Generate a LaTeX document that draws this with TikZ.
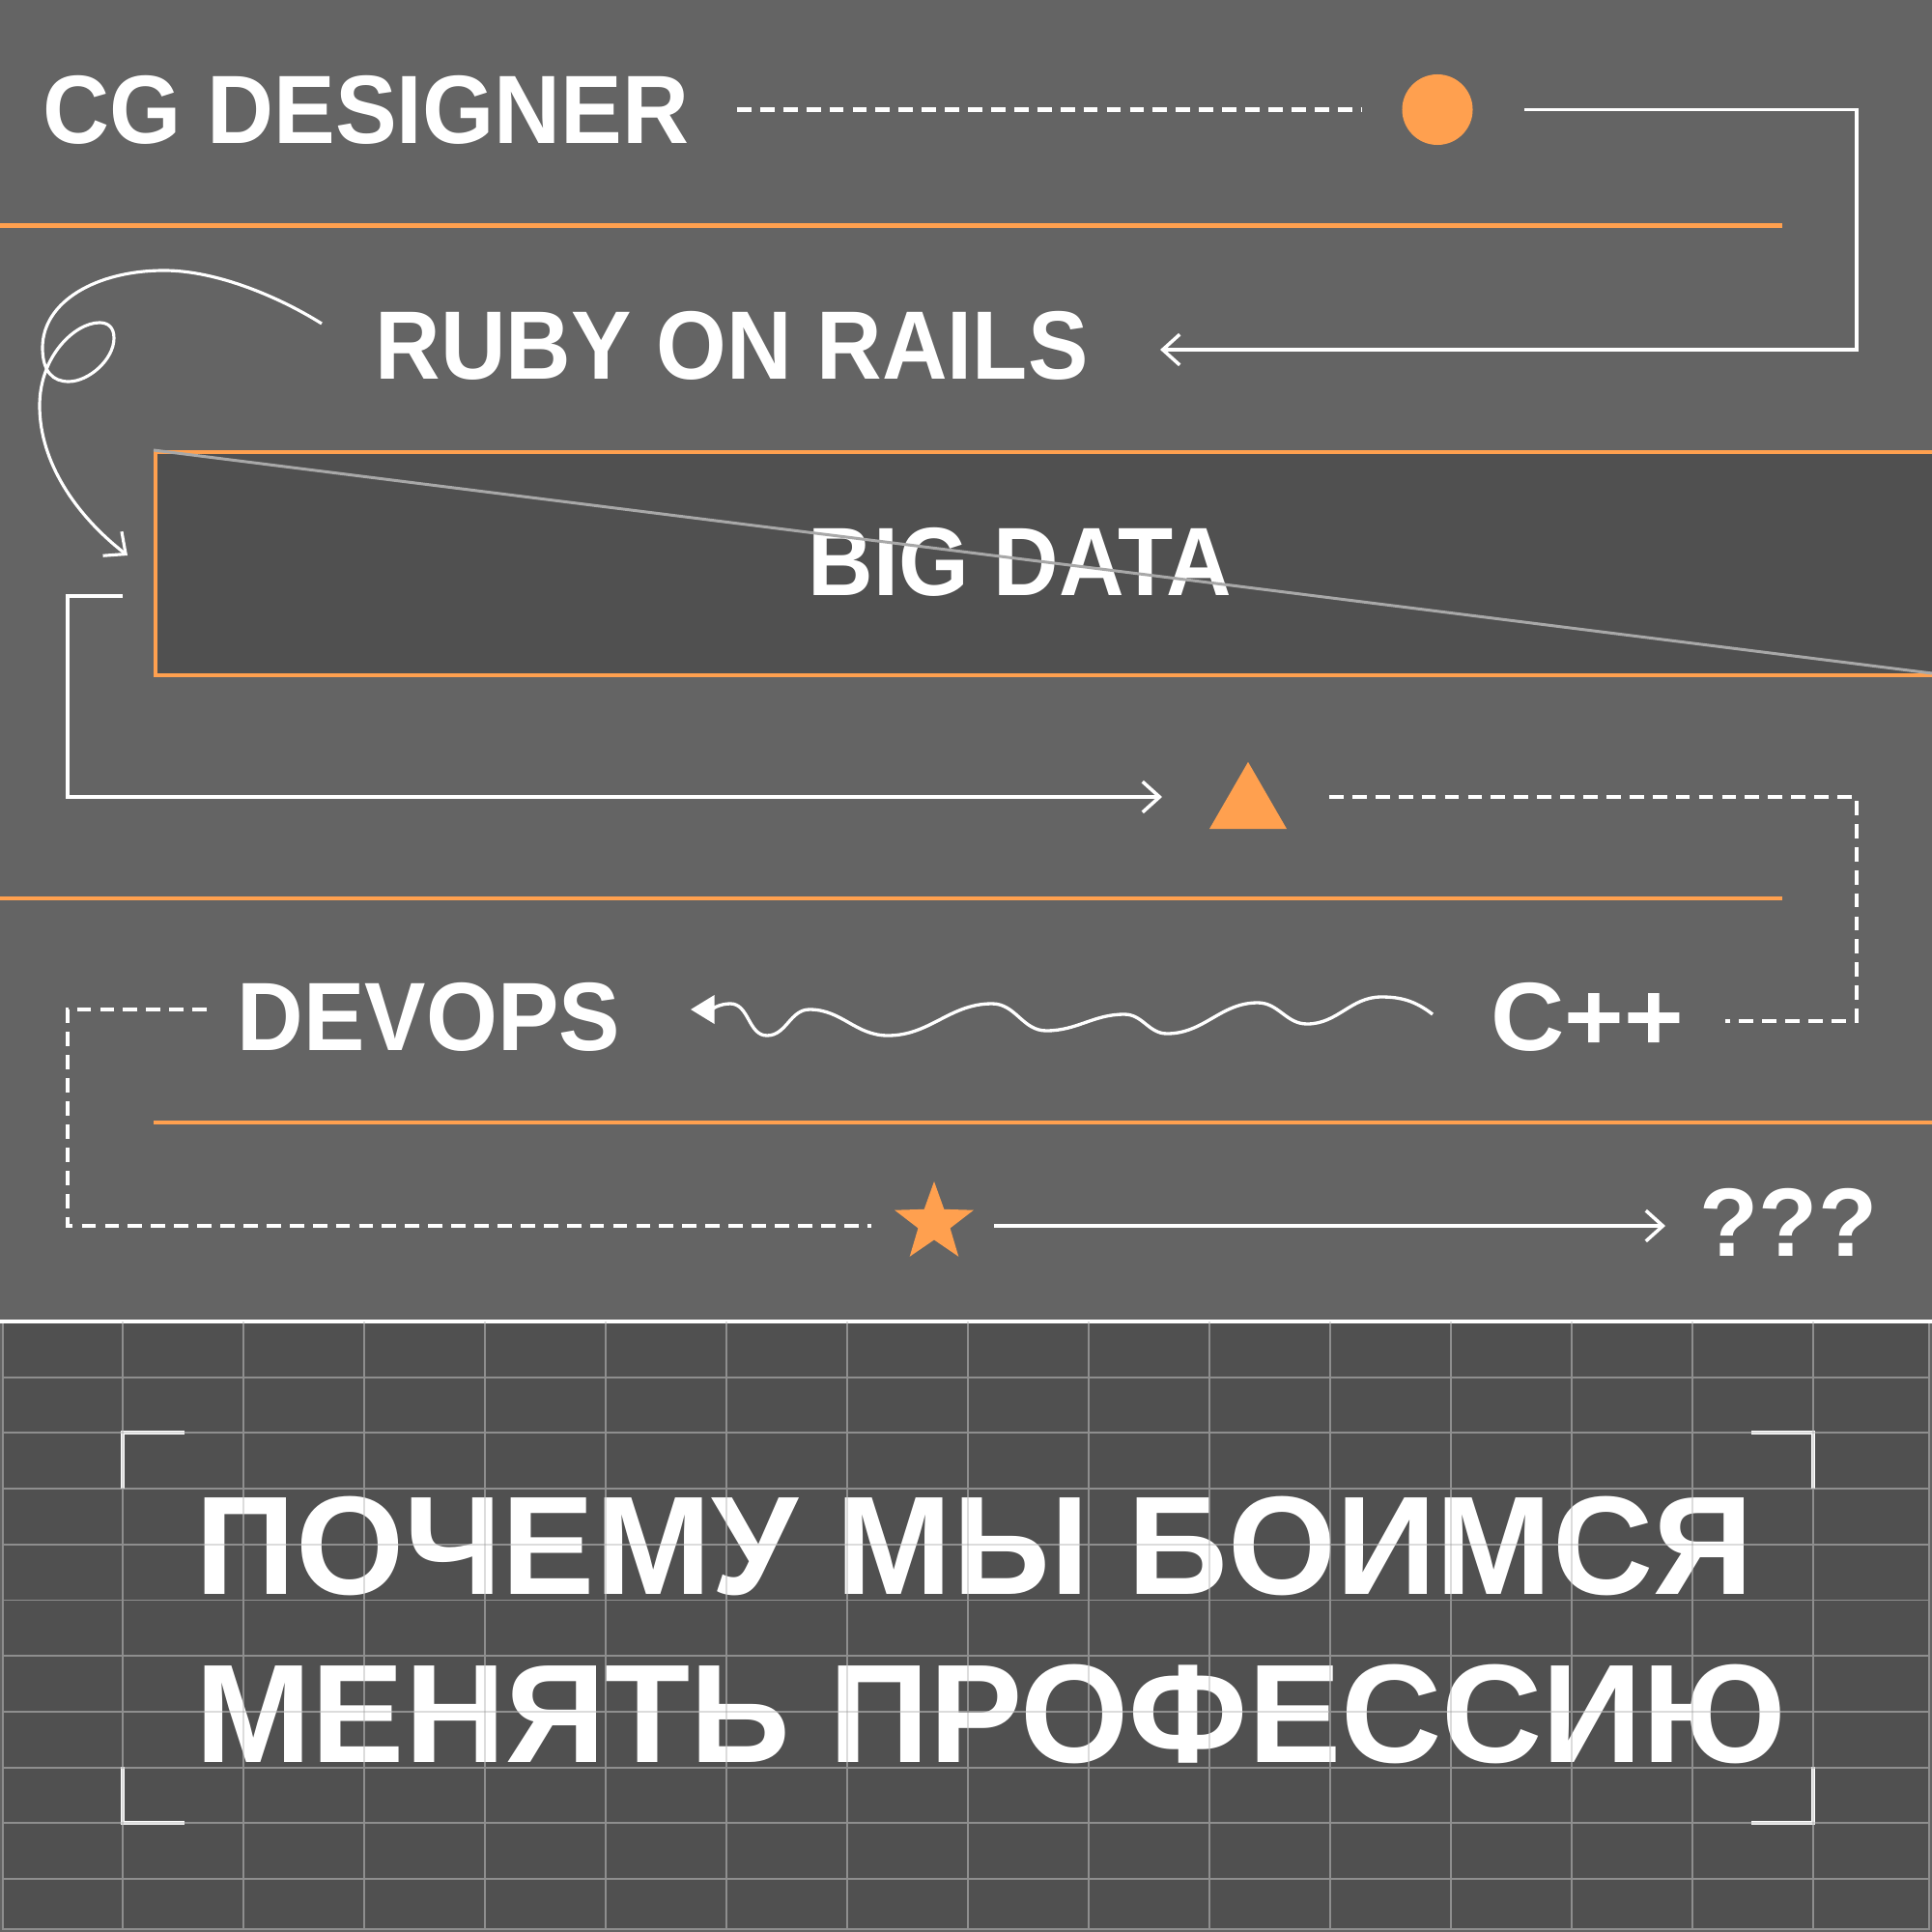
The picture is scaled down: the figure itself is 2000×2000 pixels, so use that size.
\documentclass[tikz,border=0pt]{standalone}
\usepackage{fontspec}
\setmainfont{Liberation Sans}
\usetikzlibrary{arrows.meta,shapes.geometric}
\definecolor{bg}{HTML}{646464}
\definecolor{panel}{HTML}{505050}
\definecolor{org}{HTML}{FFA04F}
\definecolor{gridc}{HTML}{8E8E8E}
\definecolor{diag}{HTML}{A8A8A8}
\newcommand{\lbl}[2]{\scalebox{#1}[1]{#2}}
\begin{document}
\begin{tikzpicture}[x=0.01cm,y=-0.01cm,
  wl/.style={draw=white, line width=1.0pt},
  dl/.style={draw=white, line width=1.25pt, dash pattern=on 4.2pt off 2.6pt},
  ol/.style={draw=org, line width=1.25pt},
  barb/.style={-{Straight Barb[length=5pt,width=9pt]}},
  lab/.style={text=white, inner sep=0pt, anchor=base west, font=\bfseries\fontsize{28.6}{30}\selectfont},
  ttl/.style={text=white, inner sep=0pt, anchor=base west, font=\bfseries\fontsize{41.3}{48}\selectfont},
  gridl/.style={draw=gridc, line width=0.55pt},
  brk/.style={draw=white, line width=1.1pt}
]
\useasboundingbox (0,0) rectangle (2000,2000);
\fill[bg] (0,0) rectangle (2000,2000);

% orange rules
\draw[ol] (0,233.5) -- (1845,233.5);
\draw[ol] (0,930) -- (1845,930);
\draw[ol] (159,1162) -- (2000,1162);

% big data box
\node[draw=org, fill=panel, line width=1.0pt, inner sep=0pt, anchor=north west,
      minimum width=18.6cm, minimum height=2.31cm] (box) at (159,466) {};

% labels
\node[lab] (cg) at (44,149) {\lbl{0.95}{CG DESIGNER}};
\node[lab] (ruby) at (388,392) {\lbl{0.93}{RUBY ON RAILS}};
\node[lab] (big) at (836,616) {\lbl{0.93}{BIG DATA}};
\node[lab] (dev) at (245,1087) {\lbl{0.945}{DEVOPS}};
\node[lab] (cpp) at (1543,1087) {\lbl{1.05}{C++}};
\node[lab] (qqq) at (1759,1300) {\lbl{0.995}{???}};

% diagonal in the box
\draw[draw=diag, line width=0.85pt] (box.north west) -- (2000,697);

% shapes
\node[circle, fill=org, minimum size=0.73cm, inner sep=0pt] (dot) at (1488,113.5) {};
\node[regular polygon, regular polygon sides=3, fill=org, minimum size=0.924cm, inner sep=0pt] (tri) at (1292,835) {};
\coordinate (star) at (967,1266);
\fill[org] (967,1223) -- (977.3,1251.8) -- (1007.9,1252.7) -- (983.6,1271.4) -- (992.3,1300.8)
  -- (967,1283.5) -- (941.7,1300.8) -- (950.4,1271.4) -- (926.1,1252.7) -- (956.7,1251.8) -- cycle;

% connector end points
\coordinate (cgE) at (763,113.5);
\coordinate (dotW) at (1409,113.5);
\coordinate (dotE) at (1578,113.5);
\coordinate (rubyE) at (1201,362);
\coordinate (rubyW) at (333,335);
\coordinate (boxW) at (132,575);
\coordinate (boxL) at (127,617);
\coordinate (triW) at (1203,825);
\coordinate (triE) at (1376,825);
\coordinate (cppE) at (1786,1057);
\coordinate (cppW) at (1483,1050);
\coordinate (devE) at (715,1045);
\coordinate (devW) at (214,1045);
\coordinate (starW) at (902,1269);
\coordinate (starE) at (1029,1269);
\coordinate (qW) at (1724,1269);

% connectors
\draw[dl] (cgE) -- (dotW);
\draw[wl,barb] (dotE) -- (1922,113.5) |- (rubyE);
\draw[draw=white, line width=0.9pt, barb] (rubyW)
  .. controls (290,308) and (225,280) .. (170,280)
  .. controls (100,280) and (44,312) .. (44,360)
  .. controls (44,385) and (55,395) .. (71,395)
  .. controls (92,395) and (118,372) .. (118,350)
  .. controls (118,338) and (111,334) .. (103,334)
  .. controls (78,334) and (41,368) .. (41,420)
  .. controls (41,478) and (78,533) .. (boxW);
\draw[wl,barb] (boxL) -- (70,617) |- (triW);
\draw[dl] (triE) -- (1922,825) |- (cppE);
\draw[draw=white, line width=0.95pt, -{Triangle[length=7pt,width=8.3pt]}] (cppW)
  .. controls (1465,1036) and (1450,1032) .. (1430,1032)
  to[out=180,in=0] (1353,1060)
  to[out=180,in=0] (1302,1038)
  to[out=180,in=0] (1208,1070)
  to[out=180,in=0] (1164,1050)
  to[out=180,in=0] (1083,1067)
  to[out=180,in=0] (1027,1039)
  to[out=180,in=0] (919,1072)
  to[out=180,in=0] (838,1045)
  to[out=180,in=0] (794,1072)
  to[out=180,in=0] (756,1039)
  .. controls (745,1039) and (735,1045) .. (devE);
\draw[dl] (devW) -- (70,1045) |- (starW);
\draw[wl,barb] (starE) -- (qW);

% bottom panel
\fill[panel] (3,1368) rectangle (1997,1997);
\foreach \x in {127,252,...,1877} \draw[gridl] (\x,1368) -- (\x,1997);
\foreach \k in {1,...,10} \draw[gridl] (3,{1368+57.7*\k}) -- (1997,{1368+57.7*\k});
\draw[gridl] (3,1368) rectangle (1997,1997);
\draw[draw=white, line width=1.1pt] (0,1368) -- (2000,1368);

% brackets
\draw[brk] (191,1483) -- (127,1483) -- (127,1541);
\draw[brk] (127,1829) -- (127,1887) -- (191,1887);
\draw[brk] (1813,1483) -- (1877,1483) -- (1877,1541);
\draw[brk] (1877,1829) -- (1877,1887) -- (1813,1887);

% title
\node[ttl] (t1) at (202,1650) {\lbl{0.993}{ПОЧЕМУ МЫ БОИМСЯ}};
\node[ttl] (t2) at (202,1824.5) {\lbl{0.993}{МЕНЯТЬ ПРОФЕССИЮ}};
\begin{scope}[opacity=0.3]
\foreach \x in {127,252,...,1877} \draw[gridl] (\x,1368) -- (\x,1997);
\foreach \k in {1,...,10} \draw[gridl] (3,{1368+57.7*\k}) -- (1997,{1368+57.7*\k});
\end{scope}
\end{tikzpicture}
\end{document}
